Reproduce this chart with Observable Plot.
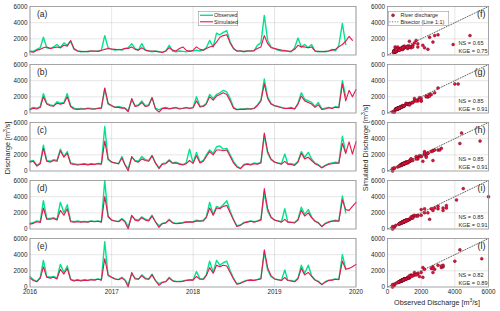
<!DOCTYPE html>
<html><head><meta charset="utf-8">
<script src="https://cdn.jsdelivr.net/npm/d3@7"></script>
<script src="https://cdn.jsdelivr.net/npm/@observablehq/plot@0.6"></script>
<style>
body{margin:0;background:#fff;}
#fig{position:relative;width:500px;height:311px;font-family:"Liberation Sans",Arial,sans-serif;color:#262626;overflow:hidden;background:#fff}
#fig svg{position:absolute;overflow:visible}
.lbl{position:absolute;font-size:7.2px;white-space:nowrap;line-height:1}
.rot{transform:translate(-50%,-50%) rotate(-90deg)}
.hor{transform:translate(-50%,-50%)}
sup{font-size:5px;vertical-align:3px;line-height:0}
</style></head><body><div id="fig"></div>
<script>
// time index: 1st and 16th of each month, Jan 2016 .. Jan 2020
const dates = d3.range(97).map(i => new Date(Date.UTC(2016 + Math.floor(i / 24), Math.floor((i % 24) / 2), i % 2 ? 16 : 1)));

const obsA = [500,450,700,900,2200,900,800,1000,1300,900,1500,1200,1700,700,500,400,450,400,500,450,500,600,2400,900,
700,600,700,600,800,900,1400,800,600,1400,600,500,400,500,400,350,500,1200,500,400,500,450,400,500,
500,600,500,600,900,1800,1000,2700,2500,2800,3000,1600,800,500,500,400,500,500,500,1200,1500,4900,1800,1000,
800,600,500,500,450,400,900,2100,1000,1300,900,1300,500,400,450,400,500,700,500,1200,3900,1300,null,null,null];
const simA = [400,350,600,700,900,1000,800,900,1000,900,1200,1100,1800,800,500,450,400,450,500,500,450,550,700,800,
750,700,650,700,800,800,1000,700,600,900,600,500,500,450,400,300,500,900,600,500,800,1000,600,450,
600,1000,700,600,800,1000,1100,1600,2200,2400,2500,1500,800,500,500,450,500,500,550,800,1000,2400,1400,900,
800,700,600,550,500,450,700,1200,1000,1000,900,1000,500,450,400,450,500,600,700,1000,1300,1700,2300,1800,null];

const obsB = [500,700,600,800,2400,1200,1000,900,1400,1200,1300,2400,900,600,500,550,500,600,550,500,600,650,3000,1100,
900,700,800,700,600,300,1600,900,1000,1500,900,1000,1900,600,400,600,700,550,600,700,550,600,700,600,
700,2000,800,900,1200,2300,1800,2300,2500,2800,2600,1800,700,450,500,500,550,500,600,1000,1600,4200,2000,1200,
900,800,700,600,600,700,500,1200,2500,1700,1500,1300,800,1300,500,600,700,600,800,700,4000,2000,null,null,null];
const simB = [400,600,500,700,2000,1100,900,850,1200,1100,1200,2000,800,500,450,500,500,550,500,500,550,600,3100,1200,
900,700,700,600,600,150,1800,800,900,1300,800,900,1900,500,100,550,600,500,600,650,500,550,650,550,
650,1500,750,800,1100,2000,1600,2100,2300,2500,2300,1500,600,400,450,450,500,500,550,900,1500,3600,1800,1100,
900,800,650,550,550,600,500,1100,2100,1500,1300,1100,700,1000,450,500,650,550,700,650,3600,1500,2800,2000,2900];

const obsC = [1200,1300,700,1000,3200,1300,1200,1400,1300,2700,1800,2400,1000,900,800,850,900,800,900,850,950,900,5500,1400,
1100,1000,900,1800,800,300,1700,1300,1200,1800,1400,1300,1900,1000,400,900,1000,1400,1000,1100,900,800,1000,2700,
1000,2300,1100,1300,2000,2600,2200,3000,3100,2700,2800,2000,1200,600,300,800,900,800,1000,900,1100,4400,2200,1400,
1100,1000,900,2100,900,900,800,1200,2400,1700,2300,1500,1000,800,400,700,900,1000,1100,1000,4300,2200,null,null,null];
const simC = [1100,1200,600,900,2800,1200,1100,1300,1200,2500,1700,2200,900,800,750,800,850,750,850,800,900,850,3700,1500,
1100,1000,900,1600,800,0,1800,1200,1100,1500,1300,1200,1900,1000,300,850,900,1300,950,1000,850,750,900,1300,
950,1900,1000,1200,1800,2400,2000,2600,2600,2500,2600,1800,1000,500,300,700,850,750,900,850,1000,4700,2400,1500,
1100,950,850,1200,850,800,700,1100,2200,1500,1700,1300,900,700,400,650,850,900,1000,950,3400,2200,3600,2100,3600];

const obsD = [700,800,1000,900,3500,1300,1300,1400,1200,3300,2000,3000,1000,900,1000,900,950,900,1000,950,1000,900,6000,1500,
1100,1000,950,1300,1000,300,1600,1200,1100,1500,1200,1100,1700,900,400,700,800,1200,800,700,750,800,900,900,
900,1100,1000,1100,1500,3300,1800,2800,2600,3000,3500,2200,1200,400,500,800,900,1000,900,1000,1200,4500,2200,1400,
1100,1000,900,2500,900,850,800,1200,2700,1800,2400,1500,1000,800,300,700,900,1000,1100,1000,4100,2000,null,null,null];
const simD = [600,700,900,800,2600,1200,1200,1300,1100,2300,1700,2500,900,850,900,850,900,850,950,900,950,850,4000,1600,
1100,1000,900,1200,900,0,1700,1100,1000,1400,1100,1000,1600,900,200,650,750,1100,750,650,700,750,850,850,
850,1000,950,1000,1400,2600,1700,2600,2500,2800,2900,2000,1100,300,450,750,850,950,850,950,1100,5000,2500,1500,
1100,1000,850,1200,850,800,750,1100,2300,1600,2000,1400,950,750,300,650,850,950,1000,950,3600,2400,2300,2800,3300];

const obsE = [1300,900,700,1200,3300,1300,1200,1300,1100,2800,1800,2600,1000,800,900,800,900,850,950,900,1000,900,5600,1400,
1200,1000,950,1200,900,300,1600,1100,1000,1500,1100,1000,1600,800,400,600,700,1200,800,700,700,750,850,900,
900,1900,1000,1000,1500,3200,1800,3300,2700,3000,3200,2000,1100,400,500,700,850,900,850,950,1100,4300,2100,1300,
1000,900,850,2100,850,800,700,1100,2700,1700,2700,1400,900,700,300,650,850,900,1000,950,4000,2200,null,null,null];
const simE = [1100,800,650,1100,2500,1200,1100,1200,1000,2200,1600,2300,900,750,850,750,850,800,900,850,950,850,3500,1500,
1200,1000,900,1100,850,0,1800,1000,950,1400,1000,950,1500,800,200,550,650,1100,750,650,650,700,800,850,
850,1300,950,950,1400,2400,1700,2700,2500,2700,2600,1800,1000,350,450,650,800,850,800,900,1000,4600,2400,1400,
1000,900,800,1200,800,750,650,1000,2300,1500,1800,1300,850,650,300,600,800,850,950,900,3200,2200,2300,2500,2800];

const observed = [obsA, obsB, obsC, obsD, obsE];
const simulated = [simA, simB, simC, simD, simE];

const tsLabels = ["(a)", "(b)", "(c)", "(d)", "(e)"];
const scLabels = ["(f)", "(g)", "(h)", "(i)", "(l)"];
const nsValues = ["0.65", "0.85", "0.85", "0.85", "0.82"];
const kgeValues = ["0.75", "0.91", "0.91", "0.91", "0.89"];

const yTicks = [0, 2000, 4000, 6000];
const yearTicks = [2016, 2017, 2018, 2019, 2020].map(y => new Date(Date.UTC(y, 0, 1)));
const bisector = [0, 6000];

const green = "#00e38c", red = "#e5174f";
const dotFill = "#e3123e", dotStroke = "#4a0812";
const font = "'Liberation Sans', Arial, sans-serif";
const fig = document.getElementById("fig");
const tops = [6, 64, 122, 180, 238];
const PH = 48.5;
const baseStyle = {fontSize: "6.3px", fontFamily: font, color: "#262626", background: "transparent", overflow: "visible"};
const numFmt = d => String(d);

for (let k = 0; k < 5; k++) {
  const rows = dates.map((d, i) => ({date: d, obs: observed[k][i], sim: simulated[k][i]}));
  const pairs = rows.filter(r => r.obs != null && r.sim != null);
  const last = k === 4;
  const mt = 4, mb = last ? 14 : 4;

  const ts = Plot.plot({
    width: 360, height: mt + PH + mb,
    marginTop: mt, marginBottom: mb, marginLeft: 29.5, marginRight: 4.5,
    style: baseStyle,
    x: {type: "utc", domain: [yearTicks[0], yearTicks[4]], label: null, axis: null},
    y: {domain: [0, 6000], label: null, axis: null},
    marks: [
      Plot.gridX(yearTicks, {stroke: "#000", strokeOpacity: 0.1}),
      Plot.gridY(yTicks.slice(1, 3), {stroke: "#000", strokeOpacity: 0.1}),
      Plot.line(rows, {x: "date", y: "obs", stroke: green, strokeWidth: 1.4}),
      Plot.line(rows, {x: "date", y: "sim", stroke: red, strokeWidth: 1.1}),
      Plot.axisY(yTicks, {tickSize: 0, tickPadding: 2.5, tickFormat: numFmt, label: null}),
      last ? Plot.axisX(yearTicks, {tickSize: 0, tickPadding: 3, tickFormat: d3.utcFormat("%Y"), label: null}) : null,
      Plot.frame({stroke: "#8f8f8f", strokeWidth: 0.8}),
      Plot.text([tsLabels[k]], {text: d => d, frameAnchor: "top-left", dx: 7, dy: 4, fontSize: 8.5, lineAnchor: "top"})
    ]
  });
  ts.style.left = "0px";
  ts.style.top = (tops[k] - mt) + "px";
  fig.appendChild(ts);

  const sc = Plot.plot({
    width: 135, height: mt + PH + mb,
    marginTop: mt, marginBottom: mb, marginLeft: 27, marginRight: 7,
    style: baseStyle,
    x: {domain: [0, 6000], label: null, axis: null},
    y: {domain: [0, 6000], label: null, axis: null},
    marks: [
      Plot.gridX(yTicks.slice(1, 3), {stroke: "#000", strokeOpacity: 0.1}),
      Plot.gridY(yTicks.slice(1, 3), {stroke: "#000", strokeOpacity: 0.1}),
      Plot.line(bisector, {x: d => d, y: d => d, stroke: "#555", strokeWidth: 0.9, strokeDasharray: "1,1.6"}),
      Plot.dot(pairs, {x: "obs", y: "sim", r: 1.5, fill: dotFill, stroke: dotStroke, strokeWidth: 0.35}),
      Plot.axisY(yTicks, {tickSize: 0, tickPadding: 2.5, tickFormat: numFmt, label: null}),
      last ? Plot.axisX(yTicks, {tickSize: 0, tickPadding: 3, tickFormat: numFmt, label: null}) : null,
      Plot.frame({stroke: "#8f8f8f", strokeWidth: 0.8}),
      Plot.text([scLabels[k]], {text: d => d, frameAnchor: "top-right", dx: -3, dy: 4, fontSize: 9, lineAnchor: "top"}),
      Plot.text([`NS = ${nsValues[k]}\nKGE = ${kgeValues[k]}`], {text: d => d, frameAnchor: "bottom-right", textAnchor: "start", dx: -30, dy: -2, fontSize: 5.6, lineAnchor: "bottom", lineHeight: 1.35})
    ]
  });
  sc.style.left = "360px";
  sc.style.top = (tops[k] - mt) + "px";
  fig.appendChild(sc);
}

// legends
function addSvg(html, left, top, w, h) {
  const s = document.createElementNS("http://www.w3.org/2000/svg", "svg");
  s.setAttribute("width", w); s.setAttribute("height", h);
  s.style.left = left + "px"; s.style.top = top + "px";
  s.innerHTML = html;
  fig.appendChild(s);
}
addSvg(`<rect x="0.3" y="0.3" width="39.4" height="14.4" fill="#fff" stroke="#999" stroke-width="0.6"/>
<line x1="2" x2="15" y1="4.3" y2="4.3" stroke="${green}" stroke-width="1.4"/>
<text x="16" y="6.3" font-size="5.4" font-family="${font}" fill="#262626">Observed</text>
<line x1="2" x2="15" y1="10.8" y2="10.8" stroke="${red}" stroke-width="1.1"/>
<text x="16" y="12.8" font-size="5.4" font-family="${font}" fill="#262626">Simulated</text>`, 198, 11, 40, 15);
addSvg(`<rect x="0.3" y="0.3" width="60.4" height="14.4" fill="#fff" stroke="#999" stroke-width="0.6"/>
<circle cx="5" cy="4.3" r="1.5" fill="${dotFill}" stroke="${dotStroke}" stroke-width="0.4"/>
<text x="12.5" y="6.3" font-size="5.4" font-family="${font}" fill="#262626">River discharge</text>
<line x1="1.5" x2="11" y1="10.8" y2="10.8" stroke="#555" stroke-width="0.9" stroke-dasharray="1,1.6"/>
<text x="12.5" y="12.8" font-size="5.4" font-family="${font}" fill="#262626">Bisector (Line 1:1)</text>`, 388, 11, 61, 15);

// axis titles
function addLabel(html, x, y, cls) {
  const d = document.createElement("div");
  d.className = "lbl " + cls;
  d.style.left = x + "px"; d.style.top = y + "px";
  d.innerHTML = html;
  fig.appendChild(d);
}
addLabel("Discharge [m<sup>3</sup>/s]", 8, 148, "rot");
addLabel("Simulated Discharge [m<sup>3</sup>/s]", 366, 148, "rot");
addLabel("Observed Discharge [m<sup>3</sup>/s]", 437, 303, "hor");
</script></body></html>
